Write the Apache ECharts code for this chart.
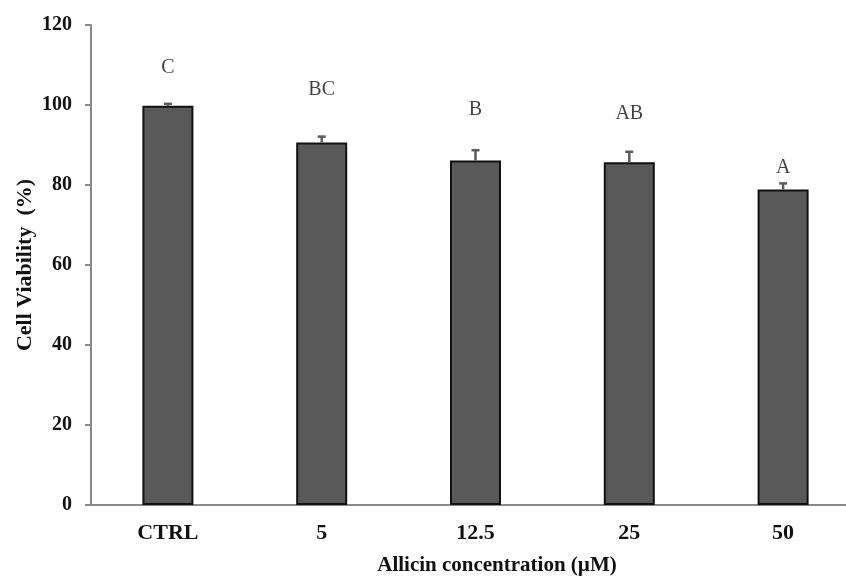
<!DOCTYPE html>
<html>
<head>
<meta charset="utf-8">
<script src="https://cdn.jsdelivr.net/npm/echarts@6/dist/echarts.min.js"></script>
<style>
  html, body { margin: 0; padding: 0; background: #fff; }
  #chart { width: 846px; height: 577px; }
</style>
</head>
<body>
<div id="chart"></div>
<script>
// data
const categories = ['CTRL', '5', '12.5', '25', '50'];
const viability = [99.8, 90.6, 86.1, 85.7, 78.9];
const sdValues = [0.5, 1.5, 2.6, 2.6, 1.5];
// significance letters and the height (in %) where each sits
const letters = ['C', 'BC', 'B', 'AB', 'A'];
const letterY = [109.3, 103.8, 98.8, 97.8, 84.3];
const yTicks = [0, 20, 40, 60, 80, 100, 120];

const chart = echarts.init(document.getElementById('chart'));
const serif = '"Liberation Serif", "Times New Roman", serif';

const option = {
  backgroundColor: '#ffffff',
  animation: false,
  grid: {
    left: 91,
    top: 25,
    width: 769,
    bottom: 72,
    containLabel: false,
    outerBoundsMode: 'none'
  },
  xAxis: {
    type: 'category',
    data: categories,
    name: 'Allicin concentration (\u00b5M)',
    nameLocation: 'middle',
    nameGap: 50,
    nameTextStyle: {
      fontFamily: serif, fontWeight: 'bold', fontSize: 21, color: '#111',
      padding: [0, 0, 0, 43]
    },
    axisLine: { lineStyle: { color: '#8a8a8a', width: 2 } },
    axisTick: { show: false },
    axisLabel: { fontFamily: serif, fontWeight: 'bold', fontSize: 22, color: '#111', margin: 17 }
  },
  yAxis: {
    type: 'value',
    min: yTicks[0],
    max: yTicks[yTicks.length - 1],
    interval: 20,
    name: 'Cell Viability  (%)',
    nameLocation: 'middle',
    nameGap: 55,
    nameMoveOverlap: false,
    nameTextStyle: { fontFamily: serif, fontWeight: 'bold', fontSize: 22, color: '#111' },
    axisLine: { show: true, lineStyle: { color: '#8a8a8a', width: 2 } },
    axisTick: { show: true, length: 6, lineStyle: { color: '#8a8a8a', width: 2 } },
    splitLine: { show: false },
    axisLabel: { fontFamily: serif, fontWeight: 'bold', fontSize: 20, color: '#111', margin: 19 }
  },
  series: [
    {
      type: 'bar',
      data: viability,
      barWidth: 51,
      itemStyle: { color: '#595959', borderColor: '#111', borderWidth: 2 }
    },
    {
      // error bars (upper side only)
      type: 'custom',
      data: viability.map((v, i) => [i, v, sdValues[i]]),
      renderItem: (params, api) => {
        const i = api.value(0);
        const v = api.value(1);
        const e = api.value(2);
        const base = api.coord([i, v]);
        const top = api.coord([i, v + e]);
        const half = 4;
        const style = { stroke: '#5c5c5c', lineWidth: 2.5 };
        return {
          type: 'group',
          children: [
            { type: 'line', shape: { x1: base[0], y1: base[1], x2: top[0], y2: top[1] }, style },
            { type: 'line', shape: { x1: top[0] - half, y1: top[1], x2: top[0] + half, y2: top[1] }, style }
          ]
        };
      },
      z: 3
    },
    {
      // significance letters
      type: 'scatter',
      data: letterY.map((y, i) => [i, y]),
      symbolSize: 0,
      label: {
        show: true,
        position: 'inside',
        formatter: (p) => letters[p.dataIndex],
        fontFamily: serif,
        fontSize: 20,
        color: '#111'
      },
      z: 4
    }
  ]
};

chart.setOption(option);
</script>
</body>
</html>
